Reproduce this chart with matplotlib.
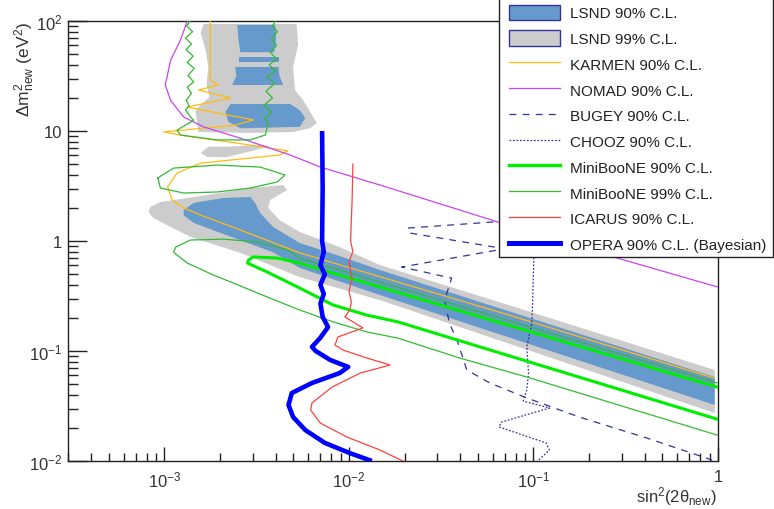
import matplotlib
matplotlib.use('Agg')
import matplotlib.pyplot as plt
import matplotlib.ticker as mticker
from matplotlib.patches import Patch, Rectangle
from matplotlib.lines import Line2D

plt.rcParams['font.family'] = ['Liberation Sans', 'DejaVu Sans']
plt.rcParams['mathtext.fontset'] = 'custom'
plt.rcParams['mathtext.rm'] = 'Liberation Sans'
plt.rcParams['mathtext.it'] = 'Liberation Sans:italic'
plt.rcParams['mathtext.default'] = 'regular'

# ---- LSND 99% C.L. (grey) ----
lsnd99_top_x = [1.63e-3, 1.57e-3, 1.67e-3, 1.73e-3, 1.69e-3, 1.75e-3, 1.47e-3, 1.51e-3, 1.53e-3, 2.92e-3,
                4.98e-3, 6.15e-3, 6.7e-3, 6.4e-3, 5.65e-3, 5.1e-3, 4.98e-3, 5.3e-3, 5.2e-3]
lsnd99_top_y = [94, 77.8, 54.5, 38.2, 26.2, 20.4, 15.5, 11.3, 9.8, 9.6,
                9.8, 10.6, 11.8, 13.4, 19, 23.6, 38.2, 60.5, 94]
lsnd99_isl_x = [1.57e-3, 1.73e-3, 2.19e-3, 3.3e-3, 3.74e-3, 3.1e-3, 2.19e-3, 1.71e-3]
lsnd99_isl_y = [6.3, 7.2, 7.2, 7.5, 7.3, 6.7, 5.8, 5.8]
lsnd99_band_x = [8.4e-4, 9.5e-4, 1.71e-3, 2.92e-3, 4.4e-3, 4.63e-3, 3.74e-3, 3.65e-3, 4.2e-3, 5.4e-3, 8.9e-3,
                 1.47e-2, 6.5e-2, 0.96, 0.96, 1.47e-2, 5.4e-3, 2.58e-3, 1.38e-3, 8.7e-4, 8.2e-4]
lsnd99_band_y = [2.04, 2.26, 2.62, 3.03, 3.23, 2.91, 2.36, 2.0, 1.55, 1.21, 0.88,
                 0.605, 0.279, 0.0672, 0.0273, 0.29, 0.47, 0.78, 1.09, 1.62, 1.84]

# ---- LSND 90% C.L. (blue) ----
lsnd90_a_x = [2.48e-3, 3.98e-3, 4.03e-3, 3.93e-3, 2.58e-3, 2.52e-3]
lsnd90_a_y = [92, 92, 70, 52, 52, 67]
lsnd90_b_x = [2.52e-3, 4.2e-3, 4.2e-3, 2.52e-3]
lsnd90_b_y = [47, 47, 42.4, 42.4]
lsnd90_c_x = [2.42e-3, 4.15e-3, 4.2e-3, 4.4e-3, 2.33e-3, 2.45e-3]
lsnd90_c_y = [38.2, 38.2, 31.6, 26.2, 26.2, 31.6]
lsnd90_d_x = [2.28e-3, 4.8e-3, 5.4e-3, 5.8e-3, 5.4e-3, 2.58e-3, 2.22e-3, 2.14e-3]
lsnd90_d_y = [17.6, 17.6, 15.5, 13.1, 10.9, 10.6, 12.1, 14.9]
lsnd90_band_x = [1.27e-3, 1.44e-3, 2.08e-3, 2.92e-3, 3.1e-3, 3.3e-3, 3.88e-3, 5.4e-3, 8.9e-3, 1.47e-2, 0.96,
                 0.96, 1.47e-2, 5.4e-3, 3.88e-3, 2.08e-3, 1.44e-3, 1.27e-3]
lsnd90_band_y = [1.91, 2.22, 2.46, 2.51, 2.22, 1.8, 1.34, 0.96, 0.73, 0.545, 0.058,
                 0.0323, 0.323, 0.57, 0.79, 1.16, 1.46, 1.72]

# ---- exclusion / allowed curves ----
karmen_x = [1.77e-3, 1.77e-3, 1.96e-3, 1.53e-3, 2.28e-3, 1.33e-3, 3.03e-3, 2.42e-3, 9.9e-4, 1.30e-3, 2.42e-3,
            4.67e-3, 4.2e-3, 1.57e-3, 1.17e-3, 1.04e-3, 1.1e-3, 1.27e-3, 1.57e-3, 2.58e-3, 5.4e-3, 6.5e-2, 0.95]
karmen_y = [100, 29, 26.2, 23.6, 20, 16.5, 12.6, 11.3, 9.8, 9.0, 7.8,
            6.6, 6.05, 5.1, 4.15, 3.1, 2.36, 2.0, 1.72, 1.26, 0.78, 0.226, 0.0568]

nomad_x = [1.33e-3, 1.22e-3, 1.08e-3, 1.01e-3, 1.08e-3, 1.27e-3, 1.63e-3, 2.58e-3, 4.8e-3, 7.0e-3,
           1.47e-2, 6.4e-2, 0.227, 0.995]
nomad_y = [100, 67, 44, 26.2, 19, 13.4, 10.9, 8.6, 6.05, 4.7, 3.23, 1.49, 0.78, 0.382]

bugey_x = [8.4e-2, 2.08e-2, 2.14e-2, 7.0e-2, 1.93e-2, 3.6e-2, 3.3e-2, 3.5e-2, 3.9e-2, 4.35e-2, 5.8e-2,
           9.2e-2, 0.177, 0.41, 0.93]
bugey_y = [1.55, 1.31, 1.18, 0.85, 0.58, 0.46, 0.29, 0.18, 0.118, 0.0672, 0.0512,
           0.0374, 0.0251, 0.0162, 0.0102]

chooz_x = [0.101, 0.099, 0.098, 9.2e-2, 9.4e-2, 9.2e-2, 8.8e-2, 0.122, 6.7e-2, 6.5e-2, 0.117, 0.122, 0.104]
chooz_y = [1.02, 0.29, 0.18, 0.109, 0.063, 0.0442, 0.0351, 0.0303, 0.0226, 0.0204, 0.0146, 0.0126, 0.0098]

mb90_x = [0.99, 1.47e-2, 5.4e-3, 4.08e-3, 3.03e-3, 2.85e-3, 2.82e-3, 3.6e-3, 5.4e-3, 8.2e-3, 1.25e-2, 1.84e-2, 0.99]
mb90_y = [0.047, 0.382, 0.63, 0.70, 0.716, 0.67, 0.63, 0.523, 0.374, 0.262, 0.212, 0.184, 0.024]

mb99_top_x = [1.38e-3, 1.32e-3, 1.42e-3, 1.30e-3, 1.40e-3, 1.31e-3, 1.43e-3, 1.33e-3, 1.45e-3, 1.34e-3,
              1.44e-3, 1.33e-3, 1.40e-3, 1.31e-3, 1.36e-3, 1.30e-3, 1.38e-3, 1.44e-3, 1.17e-3, 1.22e-3,
              1.93e-3, 2.92e-3, 3.52e-3, 3.65e-3, 3.5e-3, 3.8e-3, 3.45e-3, 3.85e-3, 3.55e-3, 3.95e-3,
              3.6e-3, 4.0e-3, 3.7e-3, 4.05e-3, 3.75e-3, 4.05e-3, 3.8e-3, 4.1e-3, 3.85e-3, 4.0e-3]
mb99_top_y = [100, 90, 80, 70, 62, 55, 48, 42, 37, 32,
              28, 25, 22, 19, 17, 15.5, 13.5, 12.5, 10.2, 9.2,
              8.3, 8.3, 9.2, 11.8, 13, 15, 17, 20, 23, 27,
              31, 35, 40, 45, 52, 60, 70, 80, 90, 100]
mb99_mid_x = [9.2e-4, 1.12e-3, 1.93e-3, 3.3e-3, 4.5e-3, 4.08e-3, 2.92e-3, 1.93e-3, 1.27e-3, 9.5e-4, 9.2e-4]
mb99_mid_y = [3.74, 4.6, 4.9, 4.7, 3.98, 3.44, 3.03, 2.79, 2.73, 3.03, 3.74]
mb99_low_x = [0.99, 1.47e-2, 5.4e-3, 4.63e-3, 3.19e-3, 2.08e-3, 1.38e-3, 1.15e-3, 1.12e-3, 1.33e-3, 1.84e-3,
              2.36e-3, 3.6e-3, 5.4e-3, 8.2e-3, 1.25e-2, 1.84e-2, 3.98e-2, 9.2e-2, 0.99]
mb99_low_y = [0.0512, 0.424, 0.70, 0.83, 0.98, 1.04, 1.02, 0.88, 0.79, 0.63, 0.49,
              0.415, 0.31, 0.236, 0.184, 0.149, 0.131, 0.0863, 0.058, 0.0172]

icarus_x = [1.05e-2, 1.04e-2, 1.02e-2, 1.05e-2, 1.0e-2, 1.04e-2, 1.0e-2, 1.03e-2, 1.01e-2, 9.5e-3, 1.19e-2,
            8.7e-3, 8.4e-3, 9.3e-3, 1.25e-2, 1.67e-2, 1.15e-2, 8.1e-3, 6.3e-3, 6.2e-3, 7.0e-3, 9.75e-3,
            1.47e-2, 1.96e-2]
icarus_y = [5.0, 2.36, 1.0, 0.8, 0.65, 0.45, 0.35, 0.28, 0.236, 0.204, 0.162,
            0.134, 0.113, 0.102, 0.0863, 0.0746, 0.063, 0.047, 0.0337, 0.029, 0.0221, 0.0165,
            0.0126, 0.01]

opera_x = [7.15e-3, 7.2e-3, 7.15e-3, 7.3e-3, 7.0e-3, 7.4e-3, 7.0e-3, 7.3e-3, 7.0e-3, 7.2e-3, 7.7e-3,
           6.97e-3, 6.3e-3, 6.6e-3, 7.9e-3, 9.9e-3, 8.9e-3, 6.3e-3, 4.9e-3, 4.7e-3, 4.98e-3, 5.8e-3,
           7.4e-3, 1.01e-2, 1.33e-2]
opera_y = [10, 3.0, 1.0, 0.8, 0.6, 0.5, 0.4, 0.33, 0.27, 0.204, 0.165,
           0.131, 0.109, 0.1, 0.083, 0.0716, 0.063, 0.0512, 0.0415, 0.0323, 0.0251, 0.0191,
           0.0146, 0.0118, 0.01]

labels = ['LSND 90% C.L.', 'LSND 99% C.L.', 'KARMEN 90% C.L.', 'NOMAD 90% C.L.', 'BUGEY 90% C.L.',
          'CHOOZ 90% C.L.', 'MiniBooNE 90% C.L.', 'MiniBooNE 99% C.L.', 'ICARUS 90% C.L.',
          'OPERA 90% C.L. (Bayesian)']

c_blue = '#6699CC'
c_grey = '#CCCCCC'
c_karmen = '#FFBB11'
c_nomad = '#CC44EE'
c_navy = '#333399'
c_mb90 = '#00EE00'
c_mb99 = '#33BB33'
c_icarus = '#FF4040'
c_opera = '#0000FF'

W, H = 774, 510
fig = plt.figure(figsize=(W / 100, H / 100), dpi=100)
ax = fig.add_axes([68 / W, 48 / H, 650 / W, 440 / H])
ax.set_xscale('log')
ax.set_yscale('log')
ax.set_xlim(3e-4, 1)
ax.set_ylim(1e-2, 1e2)

for px, py in [(lsnd99_top_x, lsnd99_top_y), (lsnd99_isl_x, lsnd99_isl_y), (lsnd99_band_x, lsnd99_band_y)]:
    ax.fill(px, py, color=c_grey, lw=0, zorder=1)
for px, py in [(lsnd90_a_x, lsnd90_a_y), (lsnd90_b_x, lsnd90_b_y), (lsnd90_c_x, lsnd90_c_y),
               (lsnd90_d_x, lsnd90_d_y), (lsnd90_band_x, lsnd90_band_y)]:
    ax.fill(px, py, color=c_blue, lw=0, zorder=2)

ax.plot(karmen_x, karmen_y, color=c_karmen, lw=0.9, zorder=3)
ax.plot(nomad_x, nomad_y, color=c_nomad, lw=0.9, zorder=3)
ax.plot(bugey_x, bugey_y, color=c_navy, lw=0.9, dashes=(5.5, 5), zorder=3)
ax.plot(chooz_x, chooz_y, color=c_navy, lw=0.9, dashes=(1.4, 1.4), zorder=3)
for px, py in [(mb99_top_x, mb99_top_y), (mb99_mid_x, mb99_mid_y), (mb99_low_x, mb99_low_y)]:
    ax.plot(px, py, color=c_mb99, lw=0.9, zorder=3)
ax.plot(mb90_x, mb90_y, color=c_mb90, lw=2.2, zorder=3)
ax.plot(icarus_x, icarus_y, color=c_icarus, lw=0.9, zorder=3)
ax.plot(opera_x, opera_y, color=c_opera, lw=3.3, zorder=4, solid_capstyle='butt')

# axes style (ROOT-like)
for s in ax.spines.values():
    s.set_color('#222222')
    s.set_linewidth(1.0)
ax.xaxis.set_major_locator(mticker.FixedLocator([1e-3, 1e-2, 1e-1, 1]))
ax.xaxis.set_major_formatter(mticker.FixedFormatter(['$10^{-3}$', '$10^{-2}$', '$10^{-1}$', '1']))
ax.yaxis.set_major_locator(mticker.FixedLocator([1e-2, 1e-1, 1, 10, 100]))
ax.yaxis.set_major_formatter(mticker.FixedFormatter(['$10^{-2}$', '$10^{-1}$', '1', '10', '$10^{2}$']))
ax.xaxis.set_minor_locator(mticker.LogLocator(base=10, subs=range(2, 10), numticks=20))
ax.yaxis.set_minor_locator(mticker.LogLocator(base=10, subs=range(2, 10), numticks=20))
ax.xaxis.set_minor_formatter(mticker.NullFormatter())
ax.yaxis.set_minor_formatter(mticker.NullFormatter())
ax.tick_params(axis='both', which='both', direction='in', top=False, right=False,
               color='#222222', width=1.0, labelcolor='#333333', labelsize=12)
ax.tick_params(axis='y', which='major', length=14, pad=4)
ax.tick_params(axis='y', which='minor', length=7)
ax.tick_params(axis='x', which='major', length=10, pad=6)
ax.tick_params(axis='x', which='minor', length=5.5)

fig.text(717 / W, 1 - 508 / H, r'$sin^2(2\theta_{new})$', ha='right', va='bottom',
         fontsize=12, color='#333333')
fig.text(25 / W, 1 - 22 / H, r'$\Delta m^2_{new}\ (eV^2)$', rotation=90, ha='center', va='top',
         fontsize=12.5, color='#333333')

# legend
handles = [
    Patch(facecolor=c_blue, edgecolor=c_navy, lw=1),
    Patch(facecolor=c_grey, edgecolor=c_navy, lw=1),
    Line2D([], [], color=c_karmen, lw=0.9),
    Line2D([], [], color=c_nomad, lw=0.9),
    Line2D([], [], color=c_navy, lw=0.9, dashes=(5.5, 5)),
    Line2D([], [], color=c_navy, lw=0.9, dashes=(1.4, 1.4)),
    Line2D([], [], color=c_mb90, lw=2.4),
    Line2D([], [], color=c_mb99, lw=0.9),
    Line2D([], [], color=c_icarus, lw=0.9),
    Line2D([], [], color=c_opera, lw=3.6),
]
frame = Rectangle((499 / W, 1 - 258 / H), 274 / W, 262 / H, transform=fig.transFigure,
                  facecolor='white', edgecolor='#222222', lw=1.0, zorder=3)
fig.add_artist(frame)
fig.legend(handles, labels, loc='upper left', bbox_to_anchor=(509 / W, 1 - 5.5 / H),
           frameon=False, fontsize=11, handlelength=3.34, handleheight=1.18,
           handletextpad=0.65, labelspacing=0.645, borderpad=0, borderaxespad=0,
           labelcolor='#222222')

fig.savefig('out.png', dpi=100)
